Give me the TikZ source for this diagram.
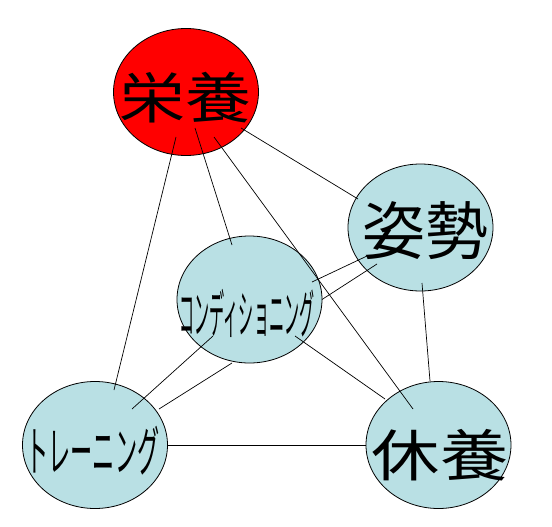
\documentclass[tikz,border=0pt]{standalone}
\usepackage{fontspec}
\newfontfamily\jp{Noto Sans CJK JP}
\usetikzlibrary{shapes.geometric,calc}
\definecolor{lblue}{RGB}{185,224,228}
\definecolor{bred}{RGB}{255,0,0}
\tikzset{
  bubble/.style={ellipse, draw=black, line width=0.8pt, minimum width=145pt, minimum height=127pt, inner sep=0pt},
  link/.style={draw=black, line width=0.7pt},
  lbl/.style={inner sep=0pt, font=\jp},
}
\begin{document}
\begin{tikzpicture}[x=1pt,y=-1pt]
\useasboundingbox (0,0) rectangle (552,527);
\node[bubble, fill=bred] (A) at (186,92) {};
\node[bubble, fill=lblue] (B) at (420.5,227.5) {};
\node[bubble, fill=lblue] (C) at (249.5,299.5) {};
\node[bubble, fill=lblue] (D) at (95,445) {};
\node[bubble, fill=lblue] (E) at (438.5,445) {};
% connectors
\draw[link] ($(A)+(-10,45)$) -- ($(D)+(19,-55)$);
\draw[link] ($(A)+(9,36)$) -- ($(C)+(-17.5,-54.5)$);
\draw[link] ($(A)+(28,45)$) -- ($(E)+(-25.5,-36)$);
\draw[link] ($(A)+(55,36)$) -- ($(B)+(-62.5,-28.5)$);
\draw[link] ($(B)+(-53.5,28.5)$) -- ($(C)+(62.5,-17.5)$);
\draw[link] ($(B)+(-43.5,36.5)$) -- ($(C)+(72.5,0)$);
\draw[link] ($(B)+(1.5,55.5)$) -- ($(E)+(-8.5,-64)$);
\draw[link] ($(C)+(-36.5,36.5)$) -- ($(D)+(37,-36)$);
\draw[link] ($(C)+(-17.5,63.5)$) -- ($(D)+(64,-36)$);
\draw[link] ($(C)+(45.5,36.5)$) -- ($(E)+(-53.5,-46)$);
\draw[link] (D.east) -- (E.west);
% labels
\node[lbl] (tA) at (185,98) {\scalebox{1.2}[1]{\fontsize{55}{55}\selectfont 栄養}};
\node[lbl] (tB) at (425,231) {\scalebox{1.0}[1]{\fontsize{63}{63}\selectfont 姿勢}};
\node[lbl] (tC) at (247,313) {\scalebox{0.29}[1]{\fontsize{52}{52}\selectfont コンディショニング}};
\node[lbl] (tD) at (93,451) {\scalebox{0.41}[1]{\fontsize{54}{54}\selectfont トレーニング}};
\node[lbl] (tE) at (440,455) {\scalebox{1.22}[1]{\fontsize{56}{56}\selectfont 休養}};
\end{tikzpicture}
\end{document}
